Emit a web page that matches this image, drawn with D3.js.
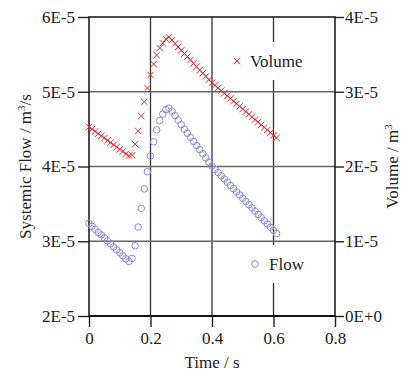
<!DOCTYPE html>
<html>
<head>
<meta charset="utf-8">
<script src="https://cdn.jsdelivr.net/npm/d3@7"></script>
<style>
  body { margin: 0; background: #fff; }
  svg text { font-family: "Liberation Serif", "Times New Roman", serif; fill: #222; }
</style>
</head>
<body>
<svg id="main-svg" width="411" height="374"></svg>
<script>
// time samples, s
const time = [0, 0.01, 0.02, 0.03, 0.04, 0.05, 0.06, 0.07, 0.08, 0.09,
  0.10, 0.11, 0.12, 0.13, 0.14, 0.15, 0.16, 0.17, 0.18, 0.19,
  0.20, 0.21, 0.22, 0.23, 0.24, 0.25, 0.26, 0.27, 0.28, 0.29,
  0.30, 0.31, 0.32, 0.33, 0.34, 0.35, 0.36, 0.37, 0.38, 0.39,
  0.40, 0.41, 0.42, 0.43, 0.44, 0.45, 0.46, 0.47, 0.48, 0.49,
  0.50, 0.51, 0.52, 0.53, 0.54, 0.55, 0.56, 0.57, 0.58, 0.59,
  0.60, 0.61];

// systemic flow, x1e-5 m3/s
const flow = [3.24, 3.20, 3.16, 3.12, 3.085, 3.045, 3.005, 2.965, 2.925, 2.885,
  2.845, 2.805, 2.765, 2.73, 2.77, 2.94, 3.19, 3.44, 3.70, 3.93,
  4.14, 4.33, 4.49, 4.615, 4.70, 4.76, 4.78, 4.74, 4.68, 4.62,
  4.56, 4.50, 4.445, 4.39, 4.335, 4.28, 4.225, 4.17, 4.115, 4.06,
  4.005, 3.962, 3.919, 3.876, 3.833, 3.79, 3.747, 3.704, 3.661, 3.618,
  3.575, 3.532, 3.489, 3.446, 3.403, 3.36, 3.317, 3.274, 3.231, 3.188,
  3.145, 3.102];

// volume, x1e-5 m3
const volume = [2.53, 2.50, 2.47, 2.44, 2.41, 2.38, 2.35, 2.32, 2.29, 2.26,
  2.23, 2.20, 2.17, 2.145, 2.15, 2.30, 2.475, 2.675, 2.865, 3.05,
  3.225, 3.37, 3.49, 3.585, 3.65, 3.705, 3.73, 3.69, 3.645, 3.60,
  3.555, 3.51, 3.47, 3.425, 3.38, 3.335, 3.29, 3.248, 3.205, 3.162,
  3.12, 3.085, 3.05, 3.015, 2.98, 2.945, 2.91, 2.874, 2.839, 2.804,
  2.769, 2.734, 2.699, 2.664, 2.628, 2.593, 2.558, 2.523, 2.488, 2.453,
  2.418, 2.383];

const xTicks = [0, 0.2, 0.4, 0.6, 0.8];
const xTickLabels = ["0", "0.2", "0.4", "0.6", "0.8"];
const flowTicks = [2, 3, 4, 5, 6];
const flowTickLabels = ["2E-5", "3E-5", "4E-5", "5E-5", "6E-5"];
const volTicks = [0, 1, 2, 3, 4];
const volTickLabels = ["0E+0", "1E-5", "2E-5", "3E-5", "4E-5"];

const margin = {top: 17, right: 76, bottom: 58, left: 89};
const width = 411, height = 374;
const x0 = margin.left, x1 = width - margin.right;
const y0 = height - margin.bottom, y1 = margin.top;

const xScale = d3.scaleLinear().domain([0, 0.8]).range([x0, x1]);
const yFlow = d3.scaleLinear().domain([2, 6]).range([y0, y1]);
const yVol = d3.scaleLinear().domain([0, 4]).range([y0, y1]);

const svg = d3.select('#main-svg');

// grid lines
svg.append("g")
  .selectAll("line")
  .data(xTicks.slice(1, -1))
  .join("line")
  .attr("x1", d => xScale(d)).attr("x2", d => xScale(d))
  .attr("y1", y1).attr("y2", y0)
  .attr("stroke", "#333").attr("stroke-width", 1.3);

svg.append("g")
  .selectAll("line")
  .data(flowTicks.slice(1, -1))
  .join("line")
  .attr("x1", x0).attr("x2", x1)
  .attr("y1", d => yFlow(d)).attr("y2", d => yFlow(d))
  .attr("stroke", "#666").attr("stroke-width", 1.6);

// legend backgrounds break the 0.6 grid line
svg.append("rect").attr("x", 228).attr("y", 42).attr("width", 86).attr("height", 38).attr("fill", "#fff");
svg.append("rect").attr("x", 247).attr("y", 245).attr("width", 66).attr("height", 38).attr("fill", "#fff");

// axes
const xAxis = svg.append("g")
  .attr("transform", `translate(0,${y0})`)
  .call(d3.axisBottom(xScale).tickValues(xTicks).tickSize(11).tickPadding(5)
    .tickFormat((d, i) => xTickLabels[i]));

const leftAxis = svg.append("g")
  .attr("transform", `translate(${x0},0)`)
  .call(d3.axisLeft(yFlow).tickValues(flowTicks).tickSize(11).tickPadding(3)
    .tickFormat((d, i) => flowTickLabels[i]));

const rightAxis = svg.append("g")
  .attr("transform", `translate(${x1},0)`)
  .call(d3.axisRight(yVol).tickValues(volTicks).tickSize(9).tickPadding(1)
    .tickFormat((d, i) => volTickLabels[i]));

[xAxis, leftAxis, rightAxis].forEach(g => {
  g.select(".domain").remove();
  g.selectAll(".tick line").attr("stroke", "#222").attr("stroke-width", 1.4);
  g.selectAll("text").attr("font-size", 17).attr("fill", "#222")
    .style("font-family", '"Liberation Serif", serif');
});

// frame
svg.append("rect")
  .attr("x", x0).attr("y", y1)
  .attr("width", x1 - x0).attr("height", y0 - y1)
  .attr("fill", "none").attr("stroke", "#111").attr("stroke-width", 1.5);
svg.append("line").attr("x1", x0).attr("x2", x1).attr("y1", y0).attr("y2", y0)
  .attr("stroke", "#111").attr("stroke-width", 2);

// data
const cross = "M-3.2,-3.2L3.2,3.2M3.2,-3.2L-3.2,3.2";

svg.append("g")
  .selectAll("circle")
  .data(time)
  .join("circle")
  .attr("cx", d => xScale(d))
  .attr("cy", (d, i) => yFlow(flow[i]))
  .attr("r", 3.3)
  .attr("fill", "none")
  .attr("stroke", "#8a8ad2")
  .attr("stroke-width", 1);

svg.append("g")
  .selectAll("path")
  .data(time)
  .join("path")
  .attr("transform", (d, i) => `translate(${xScale(d)},${yVol(volume[i])})`)
  .attr("d", cross)
  .attr("fill", "none")
  .attr("stroke", "#e8262e")
  .attr("stroke-width", 1);

// legends
svg.append("path").attr("transform", "translate(237,61)").attr("d", cross)
  .attr("stroke", "#e8262e").attr("stroke-width", 1);
svg.append("text").attr("x", 250).attr("y", 67).attr("font-size", 17).text("Volume");

svg.append("circle").attr("cx", 255).attr("cy", 264).attr("r", 3.3)
  .attr("fill", "none").attr("stroke", "#8a8ad2").attr("stroke-width", 1);
svg.append("text").attr("x", 269).attr("y", 270).attr("font-size", 17).text("Flow");

// axis titles
svg.append("text")
  .attr("x", (x0 + x1) / 2).attr("y", 368)
  .attr("text-anchor", "middle").attr("font-size", 17)
  .text("Time / s");

const lt = svg.append("text")
  .attr("transform", `translate(31,${(y0 + y1) / 2}) rotate(-90)`)
  .attr("text-anchor", "middle").attr("font-size", 17);
lt.append("tspan").text("Systemic Flow / m");
lt.append("tspan").attr("dy", -6).attr("font-size", 11).text("3");
lt.append("tspan").attr("dy", 6).text("/s");

const rt = svg.append("text")
  .attr("transform", `translate(398,${(y0 + y1) / 2}) rotate(-90)`)
  .attr("text-anchor", "middle").attr("font-size", 17);
rt.append("tspan").text("Volume / m");
rt.append("tspan").attr("dy", -6).attr("font-size", 11).text("3");
</script>
</body>
</html>
